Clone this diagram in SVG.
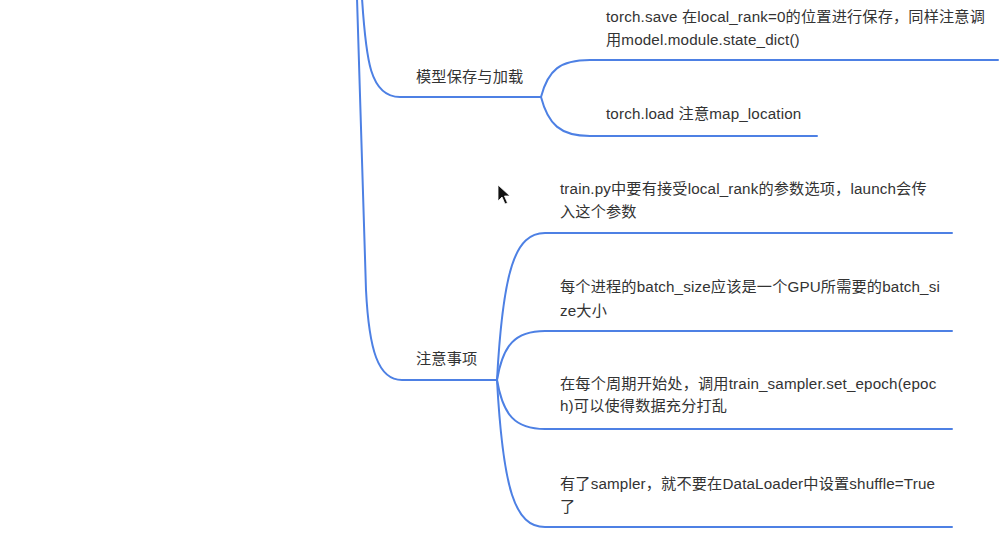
<svg xmlns="http://www.w3.org/2000/svg" width="1006" height="538" viewBox="0 0 1006 538">
<style>
.c{fill:none;stroke:#4d80e4;stroke-width:2;stroke-linecap:round}
.t{font-family:"Liberation Sans","Noto Sans CJK SC",sans-serif;font-size:15.2px;letter-spacing:0.15px;fill:#333}
</style>
<rect width="1006" height="538" fill="#fff"/>
<g id="connectors">
<path class="c" d="M362 -2 C366 60 370 97 400 97 H541"/>
<path class="c" d="M357 -2 L366 290 C369 350 378 380 402 380 H497"/>
<path class="c" d="M541 97 C548 70 560 60 590 60 H998"/>
<path class="c" d="M541 97 C548 124 560 136 590 136 H817"/>
<path class="c" d="M497 380 C503 270 515 233 545 233 H952"/>
<path class="c" d="M497 380 C503 345 515 331 545 331 H952"/>
<path class="c" d="M497 380 C503 415 515 429 545 429 H952"/>
<path class="c" d="M497 380 C503 490 515 527 545 527 H952"/>
</g>
<g id="node-save-load"><text class="t" x="416" y="82">模型保存与加载</text></g>
<g id="node-save"><text class="t" x="606" y="22">torch.save 在local_rank=0的位置进行保存，同样注意调</text><text class="t" x="606" y="45">用model.module.state_dict()</text></g>
<g id="node-load"><text class="t" x="606" y="119">torch.load 注意map_location</text></g>
<g id="node-notes"><text class="t" x="416" y="364">注意事项</text></g>
<g id="node-n1"><text class="t" x="560" y="194">train.py中要有接受local_rank的参数选项，launch会传</text><text class="t" x="560" y="217">入这个参数</text></g>
<g id="node-n2"><text class="t" x="560" y="292">每个进程的batch_size应该是一个GPU所需要的batch_si</text><text class="t" x="560" y="316">ze大小</text></g>
<g id="node-n3"><text class="t" x="560" y="389">在每个周期开始处，调用train_sampler.set_epoch(epoc</text><text class="t" x="560" y="411">h)可以使得数据充分打乱</text></g>
<g id="node-n4"><text class="t" x="560" y="489">有了sampler，就不要在DataLoader中设置shuffle=True</text><text class="t" x="560" y="512">了</text></g>
<path d="M498 185 L498 201 L502 197 L505 204 L507.5 203 L504.5 196 L510 196 Z" fill="#111" stroke="#fff" stroke-width="0.8"/>
</svg>
